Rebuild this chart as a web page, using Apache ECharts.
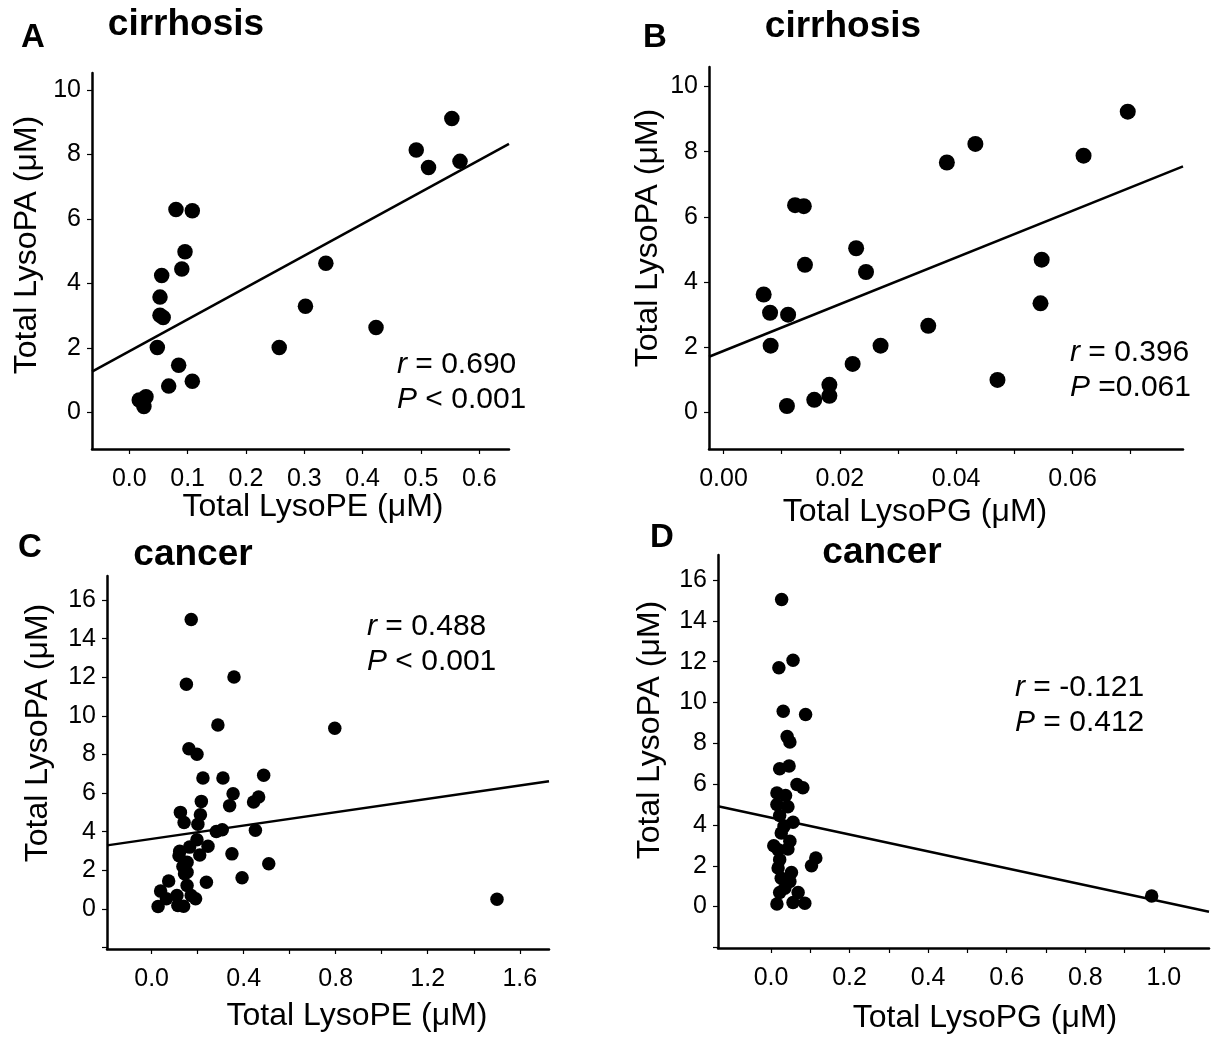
<!DOCTYPE html>
<html>
<head>
<meta charset="utf-8">
<script src="https://cdn.jsdelivr.net/npm/echarts@6/dist/echarts.min.js"></script>
<style>
html,body{margin:0;padding:0;background:#fff;}
#chart{width:1212px;height:1037px;}
</style>
</head>
<body>
<div id="chart"></div>
<script>
// ---------- Data ----------
// Panel A: cirrhosis, LysoPE vs LysoPA
const panelA_x = [0.553,0.492,0.513,0.567,0.080,0.108,0.0955,0.090,0.0555,0.0526,0.0526,0.058,0.048,0.0846,0.0675,0.108,0.017,0.0286,0.025,0.337,0.302,0.257,0.423];
const panelA_y = [9.12,8.14,7.60,7.79,6.30,6.26,4.99,4.45,4.25,3.58,3.02,2.95,2.02,1.47,0.82,0.97,0.39,0.49,0.19,4.63,3.30,2.02,2.64];
const fitA = [[-0.064,1.27],[0.651,8.33]];

// Panel B: cirrhosis, LysoPG vs LysoPA
const panelB_x = [0.0695,0.0433,0.0384,0.0619,0.0123,0.0138,0.0228,0.0245,0.0140,0.0069,0.0080,0.0111,0.0081,0.0547,0.0545,0.0352,0.0270,0.0222,0.0182,0.0182,0.0156,0.0109,0.0471];
const panelB_y = [9.23,8.24,7.67,7.88,6.36,6.33,5.04,4.31,4.53,3.62,3.06,3.00,2.05,4.69,3.35,2.66,2.05,1.49,0.85,0.51,0.39,0.20,1.00];
const fitB = [[-0.0025,1.71],[0.079,7.55]];

// Panel C: cancer, LysoPE vs LysoPA
const panelC_x = [0.172,0.151,0.358,0.288,0.796,0.162,0.197,0.223,0.310,0.487,0.354,0.216,0.339,0.443,0.465,0.125,0.141,0.212,0.201,0.281,0.307,0.451,0.197,0.245,0.165,0.122,0.119,0.209,0.349,0.154,0.136,0.154,0.143,0.509,0.393,0.074,0.238,0.154,0.039,0.064,0.110,0.172,0.191,0.028,0.114,0.139,1.501];
const panelC_y = [15.0,11.64,12.02,9.53,9.36,8.30,8.01,6.78,6.78,6.92,5.97,5.57,5.35,5.54,5.80,5.00,4.48,4.88,4.39,4.01,4.10,4.07,3.58,3.24,3.20,2.99,2.75,2.79,2.85,2.42,2.20,1.90,1.82,2.34,1.61,1.44,1.38,1.21,0.92,0.52,0.69,0.69,0.52,0.12,0.17,0.14,0.50];
const fitC = [[-0.194,3.29],[1.727,6.61]];

// Panel D: cancer, LysoPG vs LysoPA
const panelD_x = [0.027,0.020,0.056,0.031,0.088,0.041,0.048,0.022,0.046,0.066,0.081,0.015,0.037,0.015,0.043,0.056,0.022,0.026,0.048,0.007,0.018,0.043,0.022,0.018,0.026,0.052,0.048,0.114,0.103,0.022,0.069,0.015,0.056,0.086,0.969,0.035,0.033];
const panelD_y = [15.05,11.7,12.07,9.57,9.41,8.33,8.07,6.75,6.89,5.98,5.82,5.57,5.44,5.00,4.89,4.13,4.46,3.61,3.20,2.98,2.79,2.82,2.30,1.89,1.39,1.67,1.23,2.38,2.00,0.69,0.69,0.13,0.20,0.16,0.52,0.90,3.93];
const fitD = [[-0.135,4.92],[1.115,-0.25]];

// Tick values / labels
const xTicksA = [0,0.1,0.2,0.3,0.4,0.5,0.6];
const xLabelsA = [0,0.1,0.2,0.3,0.4,0.5,0.6];
const yTicksAB = [0,2,4,6,8,10];
const xTicksB = [0,0.01,0.02,0.03,0.04,0.05,0.06,0.07];
const xLabelsB = [0,0.02,0.04,0.06];
const xTicksC = [0,0.2,0.4,0.6,0.8,1.0,1.2,1.4,1.6];
const xLabelsC = [0,0.4,0.8,1.2,1.6];
const xTicksD = [0,0.1,0.2,0.3,0.4,0.5,0.6,0.7,0.8,0.9,1.0];
const xLabelsD = [0,0.2,0.4,0.6,0.8,1.0];
const yTicksCD = [-2,0,2,4,6,8,10,12,14,16];
const yLabelsCD = [0,2,4,6,8,10,12,14,16];

const titles = ['cirrhosis','cirrhosis','cancer','cancer'];
const letters = ['A','B','C','D'];
const xNames = ['Total LysoPE (μM)','Total LysoPG (μM)','Total LysoPE (μM)','Total LysoPG (μM)'];
const yName = 'Total LysoPA (μM)';
const stats = [['0.690','< 0.001'],['0.396','=0.061'],['0.488','< 0.001'],['= -0.121','= 0.412']];

// ---------- Layout ----------
const FONT = 'Liberation Sans, Arial, sans-serif';
const grids = [
  {left:92, top:73, width:417, height:376},
  {left:709, top:67, width:474, height:382},
  {left:107, top:576, width:442, height:373},
  {left:718, top:555, width:491, height:393}
];
const xRanges = [[-0.064,0.651],[-0.0025,0.079],[-0.194,1.727],[-0.135,1.115]];
const yRanges = [[-1.13,10.53],[-1.12,10.6],[-2.08,17.25],[-2.03,17.23]];
const xDec = [1,2,1,1];
const xTicks = [xTicksA,xTicksB,xTicksC,xTicksD];
const xLabels = [xLabelsA,xLabelsB,xLabelsC,xLabelsD];
const yTicks = [yTicksAB,yTicksAB,yTicksCD,yTicksCD];
const yLabels = [yTicksAB,yTicksAB,yLabelsCD,yLabelsCD];
const symSizes = [15.5,16,13.5,13.5];
const xs = [panelA_x,panelB_x,panelC_x,panelD_x];
const ys = [panelA_y,panelB_y,panelC_y,panelD_y];
const fits = [fitA,fitB,fitC,fitD];

const axisLine = {show:true, onZero:false, lineStyle:{color:'#000', width:2.5}};
const axisTickStyle = {lineStyle:{color:'#000', width:1.2}, length:5};

const xAxis = [], yAxis = [], series = [];
for (let i=0;i<4;i++){
  const dec = xDec[i];
  xAxis.push({
    type:'value', gridIndex:i, min:xRanges[i][0], max:xRanges[i][1],
    axisLine, splitLine:{show:false},
    axisTick:Object.assign({show:true, customValues:xTicks[i]}, axisTickStyle),
    axisLabel:{customValues:xLabels[i], color:'#000', fontSize:25, fontFamily:FONT, margin:18,
      formatter:(v)=>Number(v).toFixed(dec)}
  });
  yAxis.push({
    type:'value', gridIndex:i, min:yRanges[i][0], max:yRanges[i][1],
    axisLine, splitLine:{show:false},
    axisTick:Object.assign({show:true, customValues:yTicks[i]}, axisTickStyle),
    axisLabel:{customValues:yLabels[i], color:'#000', fontSize:25, fontFamily:FONT, margin:11,
      formatter:(v)=>String(Math.round(v))}
  });
  series.push({
    type:'scatter', xAxisIndex:i, yAxisIndex:i,
    data: xs[i].map((x,k)=>[x, ys[i][k]]),
    symbolSize:symSizes[i], itemStyle:{color:'#000', opacity:1}, silent:true
  });
  series.push({
    type:'line', xAxisIndex:i, yAxisIndex:i, data:fits[i],
    showSymbol:false, symbol:'none', lineStyle:{color:'#000', width:2.5}, silent:true
  });
}

// ---------- Text (titles, axis names, stats) ----------
const letterPos = [[33,38],[655,38],[30,548],[662,538]];
const titlePos = [[186,25],[843,27],[193,555],[882,553]];
const xNamePos = [[313,507],[915,512],[357,1016],[985,1018]];
const yNamePos = [[27,245],[648,238],[38,733],[650,730]];
const statPos = [[397,365],[1070,353],[367,627],[1015,688]];
const statGap = 35;

const graphic = [];
for (let i=0;i<4;i++){
  graphic.push({type:'text', x:letterPos[i][0], y:letterPos[i][1],
    style:{text:letters[i], font:'bold 33px '+FONT, fill:'#000', align:'center', verticalAlign:'middle'}});
  graphic.push({type:'text', x:titlePos[i][0], y:titlePos[i][1],
    style:{text:titles[i], font:'bold 37px '+FONT, fill:'#000', align:'center', verticalAlign:'middle'}});
  graphic.push({type:'text', x:xNamePos[i][0], y:xNamePos[i][1],
    style:{text:xNames[i], font:'32px '+FONT, fill:'#000', align:'center', verticalAlign:'middle'}});
  graphic.push({type:'text', x:yNamePos[i][0], y:yNamePos[i][1], rotation:Math.PI/2,
    style:{text:yName, font:'32px '+FONT, fill:'#000', align:'center', verticalAlign:'middle'}});
  const rText = (i===3) ? '{i|r} ' + stats[i][0] : '{i|r} = ' + stats[i][0];
  graphic.push({type:'text', x:statPos[i][0], y:statPos[i][1],
    style:{text:rText, fontSize:30, fontFamily:FONT, fill:'#000', align:'left', verticalAlign:'middle',
      rich:{i:{fontStyle:'italic', fontSize:30, fontFamily:FONT, fill:'#000'}}}});
  graphic.push({type:'text', x:statPos[i][0], y:statPos[i][1]+statGap,
    style:{text:'{i|P} ' + stats[i][1], fontSize:30, fontFamily:FONT, fill:'#000', align:'left', verticalAlign:'middle',
      rich:{i:{fontStyle:'italic', fontSize:30, fontFamily:FONT, fill:'#000'}}}});
}

const chart = echarts.init(document.getElementById('chart'), null, {renderer:'canvas'});
chart.setOption({
  backgroundColor:'#fff',
  animation:false,
  grid:grids,
  xAxis, yAxis, series, graphic
});
</script>
</body>
</html>
